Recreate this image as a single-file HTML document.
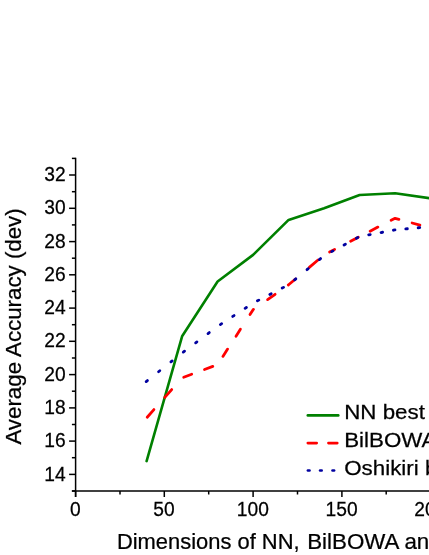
<!DOCTYPE html>
<html><head><meta charset="utf-8"><style>
html,body{margin:0;padding:0;background:#fff;}
body{width:429px;height:555px;overflow:hidden;}
svg{display:block;will-change:transform;}
text{font-family:"Liberation Sans",sans-serif;fill:#000;stroke:#000;stroke-width:0.25px;}
</style></head><body>
<svg width="429" height="555" viewBox="0 0 429 555">
<g stroke="#000" stroke-width="1.5" fill="none">
<line x1="75.6" y1="157.7" x2="75.6" y2="497"/>
<line x1="71.89999999999999" y1="491.0" x2="440" y2="491.0"/>
<line x1="71.9" y1="491.0" x2="75.6" y2="491.0"/>
<line x1="69.1" y1="474.4" x2="75.6" y2="474.4"/>
<line x1="71.9" y1="457.7" x2="75.6" y2="457.7"/>
<line x1="69.1" y1="441.1" x2="75.6" y2="441.1"/>
<line x1="71.9" y1="424.5" x2="75.6" y2="424.5"/>
<line x1="69.1" y1="407.9" x2="75.6" y2="407.9"/>
<line x1="71.9" y1="391.2" x2="75.6" y2="391.2"/>
<line x1="69.1" y1="374.6" x2="75.6" y2="374.6"/>
<line x1="71.9" y1="358.0" x2="75.6" y2="358.0"/>
<line x1="69.1" y1="341.3" x2="75.6" y2="341.3"/>
<line x1="71.9" y1="324.7" x2="75.6" y2="324.7"/>
<line x1="69.1" y1="308.1" x2="75.6" y2="308.1"/>
<line x1="71.9" y1="291.4" x2="75.6" y2="291.4"/>
<line x1="69.1" y1="274.8" x2="75.6" y2="274.8"/>
<line x1="71.9" y1="258.2" x2="75.6" y2="258.2"/>
<line x1="69.1" y1="241.6" x2="75.6" y2="241.6"/>
<line x1="71.9" y1="224.9" x2="75.6" y2="224.9"/>
<line x1="69.1" y1="208.3" x2="75.6" y2="208.3"/>
<line x1="71.9" y1="191.7" x2="75.6" y2="191.7"/>
<line x1="69.1" y1="175.0" x2="75.6" y2="175.0"/>
<line x1="71.9" y1="158.4" x2="75.6" y2="158.4"/>
<line x1="75.6" y1="491.0" x2="75.6" y2="497.0"/>
<line x1="120.0" y1="491.0" x2="120.0" y2="494.5"/>
<line x1="164.3" y1="491.0" x2="164.3" y2="497.0"/>
<line x1="208.7" y1="491.0" x2="208.7" y2="494.5"/>
<line x1="253.1" y1="491.0" x2="253.1" y2="497.0"/>
<line x1="297.5" y1="491.0" x2="297.5" y2="494.5"/>
<line x1="341.9" y1="491.0" x2="341.9" y2="497.0"/>
<line x1="386.2" y1="491.0" x2="386.2" y2="494.5"/>
<line x1="430.6" y1="491.0" x2="430.6" y2="497.0"/>
</g>
<g font-size="20px">
<text transform="translate(65.6,480.5) scale(0.960,1)" text-anchor="end">14</text>
<text transform="translate(65.6,447.2) scale(0.960,1)" text-anchor="end">16</text>
<text transform="translate(65.6,414.0) scale(0.960,1)" text-anchor="end">18</text>
<text transform="translate(65.6,380.7) scale(0.960,1)" text-anchor="end">20</text>
<text transform="translate(65.6,347.4) scale(0.960,1)" text-anchor="end">22</text>
<text transform="translate(65.6,314.2) scale(0.960,1)" text-anchor="end">24</text>
<text transform="translate(65.6,280.9) scale(0.960,1)" text-anchor="end">26</text>
<text transform="translate(65.6,247.7) scale(0.960,1)" text-anchor="end">28</text>
<text transform="translate(65.6,214.4) scale(0.960,1)" text-anchor="end">30</text>
<text transform="translate(65.6,181.1) scale(0.960,1)" text-anchor="end">32</text>
<text transform="translate(75.3,516.3) scale(0.960,1)" text-anchor="middle">0</text>
<text transform="translate(164.0,516.3) scale(0.960,1)" text-anchor="middle">50</text>
<text transform="translate(252.8,516.3) scale(0.960,1)" text-anchor="middle">100</text>
<text transform="translate(341.6,516.3) scale(0.960,1)" text-anchor="middle">150</text>
<text transform="translate(430.3,516.3) scale(0.960,1)" text-anchor="middle">200</text>
</g>
<polyline points="146.6,461.1 182.1,336.3 217.6,281.5 253.1,254.9 288.6,219.9 324.1,208.3 359.6,195.0 395.1,193.3 430.6,198.3" fill="none" stroke="#008000" stroke-width="2.6" stroke-linejoin="round" stroke-linecap="round"/>
<g fill="none" stroke="#ff0000" stroke-width="2.8" stroke-linecap="round" stroke-linejoin="round">
<polyline points="147.2,417.2 153.9,409.6"/>
<polyline points="164.8,397.4 171.7,389.6"/>
<polyline points="183.7,377.3 191.7,374.3"/>
<polyline points="204.5,369.5 212.8,366.4"/>
<polyline points="222.9,356.4 227.6,349.1"/>
<polyline points="236.0,336.2 240.4,329.3"/>
<polyline points="250.0,314.6 253.1,309.7 253.5,309.4"/>
<polyline points="267.6,299.6 275.1,294.3"/>
<polyline points="288.3,285.0 288.6,284.8 295.5,279.0"/>
<polyline points="309.3,267.4 318.0,260.0"/>
<polyline points="329.6,252.0 334.6,249.4"/>
<polyline points="350.6,241.2 358.3,237.2"/>
<polyline points="370.1,231.2 377.9,227.1"/>
<polyline points="391.1,220.3 395.1,218.3 398.9,219.3"/>
<polyline points="412.1,223.0 419.9,225.2"/>
</g>
<g fill="none" stroke="#0000a0" stroke-width="2.8" stroke-linecap="round">
<line x1="146.17" y1="381.58" x2="147.43" y2="380.58"/>
<line x1="158.54" y1="371.73" x2="159.80" y2="370.73"/>
<line x1="170.91" y1="361.88" x2="172.17" y2="360.88"/>
<line x1="183.27" y1="352.09" x2="184.55" y2="351.13"/>
<line x1="195.64" y1="342.82" x2="196.92" y2="341.86"/>
<line x1="208.01" y1="333.55" x2="209.29" y2="332.59"/>
<line x1="220.35" y1="324.56" x2="221.69" y2="323.68"/>
<line x1="232.72" y1="316.45" x2="234.06" y2="315.57"/>
<line x1="245.09" y1="308.33" x2="246.43" y2="307.46"/>
<line x1="257.42" y1="300.86" x2="258.84" y2="300.12"/>
<line x1="269.79" y1="294.48" x2="271.21" y2="293.75"/>
<line x1="282.16" y1="288.11" x2="283.58" y2="287.37"/>
<line x1="294.62" y1="279.85" x2="295.86" y2="278.84"/>
<line x1="306.99" y1="269.71" x2="308.23" y2="268.70"/>
<line x1="319.36" y1="259.57" x2="320.60" y2="258.56"/>
<line x1="331.65" y1="251.62" x2="333.05" y2="250.86"/>
<line x1="344.02" y1="244.96" x2="345.42" y2="244.20"/>
<line x1="356.39" y1="238.29" x2="357.79" y2="237.53"/>
<line x1="368.67" y1="234.86" x2="370.25" y2="234.57"/>
<line x1="381.04" y1="232.54" x2="382.62" y2="232.25"/>
<line x1="393.41" y1="230.22" x2="394.99" y2="229.93"/>
<line x1="405.77" y1="228.91" x2="407.37" y2="228.76"/>
<line x1="418.14" y1="227.75" x2="419.74" y2="227.60"/>
</g>
<g fill="none" stroke-width="2.6" stroke-linecap="round">
<line x1="307.8" y1="415.4" x2="338.3" y2="415.4" stroke="#008000"/>
<line x1="307.8" y1="443.1" x2="316.7" y2="443.1" stroke="#ff0000"/>
<line x1="328.4" y1="443.1" x2="337.3" y2="443.1" stroke="#ff0000"/>
<line x1="307.9" y1="470.5" x2="309.5" y2="470.5" stroke="#0000a0"/>
<line x1="320.1" y1="470.5" x2="321.7" y2="470.5" stroke="#0000a0"/>
<line x1="332.5" y1="470.5" x2="334.1" y2="470.5" stroke="#0000a0"/>
</g>
<g font-size="20.5px">
<text transform="translate(344.2,418.6) scale(1.09,1)">NN best</text>
<text transform="translate(344.2,447.1) scale(1.09,1)">BilBOWA best</text>
<text transform="translate(344.2,475.4) scale(1.09,1)">Oshikiri best</text>
</g>
<text transform="translate(116.9,549.4) scale(1.029,1)" font-size="21.3px">Dimensions of NN,</text>
<text transform="translate(307.2,549.4) scale(1.049,1)" font-size="21.3px">BilBOWA and Oshikiri</text>
<text transform="translate(21.3,444.6) rotate(-90) scale(1.0475,1)" font-size="21.3px">Average Accuracy (dev)</text>
</svg>
</body></html>
